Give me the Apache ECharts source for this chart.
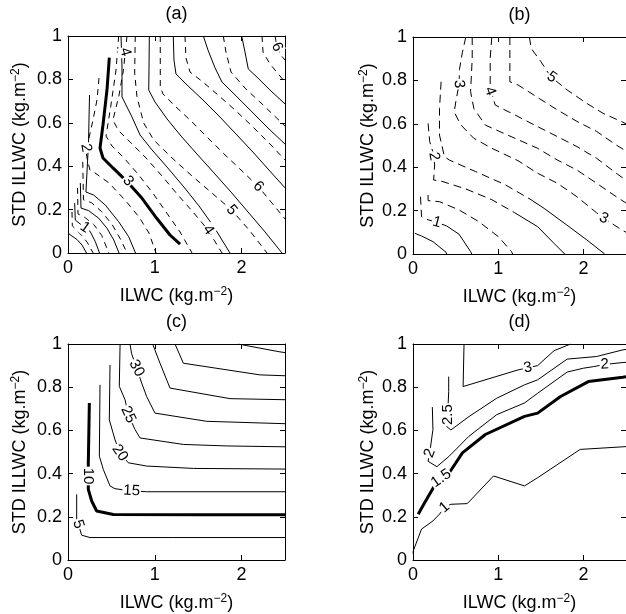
<!DOCTYPE html>
<html><head><meta charset="utf-8">
<script src="https://cdn.jsdelivr.net/npm/echarts@6/dist/echarts.min.js"></script>
<style>html,body{margin:0;padding:0;background:#fff}#c{width:626px;height:614px}</style>
</head><body><div id="c"></div>
<script>
// ---------- axes / text ----------
const xTickValues = [0, 1, 2];
const xRange = [0, 2.5];
const yRange = [0, 1];
const yStep = 0.2;
const panelTitles = ['(a)', '(b)', '(c)', '(d)'];
const xAxisTitle = 'ILWC (kg.m{s|−2})';
const yAxisTitle = 'STD ILLWC (kg.m{s|−2})';

// ---------- panel (a) contours ----------
const a_s1 = [[0,0.092],[0.035,0.081],[0.104,0.062],[0.161,0.037],[0.213,0]];
const a_s2 = [[0.077,0.23],[0.084,0.152],[0.127,0.138],[0.184,0.120],[0.253,0.101],[0.315,0.052],[0.363,0]];
const a_s3 = [[0.142,0.323],[0.150,0.207],[0.238,0.195],[0.354,0.160],[0.449,0.114],[0.527,0.060],[0.588,0]];
const a_s4 = [[0.248,0.728],[0.236,0.507],[0.207,0.281],[0.296,0.267],[0.430,0.221],[0.584,0.144],[0.699,0.075],[0.778,0]];
const a_d1 = [[0.046,0.19],[0.05,0.125],[0.10,0.105],[0.16,0.08],[0.22,0.05],[0.29,0]];
const a_d2 = [[0.11,0.30],[0.115,0.18],[0.18,0.168],[0.30,0.13],[0.39,0.08],[0.47,0]];
const a_d3 = [[0.17,0.42],[0.178,0.245],[0.27,0.232],[0.39,0.19],[0.51,0.13],[0.61,0.06],[0.68,0]];
const a_dTwo = [[0.357,0.806],[0.334,0.705],[0.288,0.613],[0.242,0.530],[0.207,0.475],[0.219,0.438],[0.253,0.382],[0.311,0.369],[0.472,0.323],[0.657,0.244],[0.818,0.166],[0.933,0.092],[1.014,0]];
const a_thick = [[0.476,0.9],[0.449,0.751],[0.403,0.590],[0.369,0.484],[0.403,0.438],[0.518,0.392],[0.680,0.329],[0.853,0.252],[1.022,0.160],[1.175,0.083],[1.291,0.041]];
const a_r1 = [[0.584,1.0],[0.553,0.843],[0.495,0.682],[0.438,0.539],[0.507,0.493],[0.645,0.438],[0.806,0.364],[0.968,0.281],[1.129,0.189],[1.291,0.097],[1.429,0]];
const a_r2 = [[0.680,1.0],[0.660,0.926],[0.639,0.843],[0.588,0.728],[0.518,0.613],[0.576,0.567],[0.714,0.512],[0.899,0.438],[1.083,0.355],[1.267,0.267],[1.440,0.189],[1.613,0.106],[1.774,0]];
const a_r3 = [[0.611,1.0],[0.622,0.857],[0.622,0.719],[0.737,0.627],[0.830,0.544],[0.968,0.475],[1.141,0.396],[1.325,0.309],[1.509,0.217],[1.682,0.120],[1.866,0]];
const a_r4 = [[0.775,1.0],[0.768,0.829],[0.795,0.719],[0.872,0.599],[0.987,0.521],[1.198,0.438],[1.429,0.355],[1.659,0.276],[1.886,0.198],[2.097,0.101],[2.293,0]];
const a_r5 = [[0.937,1.0],[0.933,0.843],[0.930,0.751],[1.002,0.696],[1.141,0.618],[1.302,0.539],[1.486,0.456],[1.682,0.369],[1.878,0.281],[2.074,0.189],[2.270,0.097],[2.465,0]];
const a_r6 = [[1.063,1.0],[1.063,0.843],[1.063,0.765],[1.094,0.733],[1.244,0.673],[1.429,0.604],[1.613,0.530],[1.809,0.452],[2.005,0.378],[2.193,0.306],[2.350,0.230],[2.5,0.157]];
const a_r7 = [[1.213,1.0],[1.221,0.889],[1.244,0.825],[1.383,0.770],[1.555,0.705],[1.740,0.631],[1.936,0.548],[2.131,0.465],[2.316,0.382],[2.5,0.300]];
const a_r8 = [[1.348,1.0],[1.359,0.899],[1.406,0.834],[1.555,0.788],[1.728,0.728],[1.924,0.659],[2.120,0.585],[2.316,0.507],[2.5,0.429]];
const a_r9 = [[1.559,1.0],[1.613,0.935],[1.694,0.853],[1.774,0.788],[1.936,0.724],[2.120,0.650],[2.304,0.576],[2.5,0.502]];
const a_r10 = [[1.789,1.0],[1.820,0.926],[1.878,0.834],[2.039,0.760],[2.235,0.687],[2.5,0.585]];
const a_r11 = [[2.001,1.0],[2.039,0.926],[2.077,0.848],[2.189,0.806],[2.327,0.751],[2.5,0.687]];
const a_r12 = [[2.235,1.0],[2.247,0.926],[2.327,0.871],[2.5,0.788]];
const a_r13 = [[2.385,1.0],[2.408,0.949],[2.442,0.917],[2.5,0.889]];
const a_labels = [['1',0.196,0.117],['2',0.207,0.484],['3',0.691,0.332],['4',0.660,0.926],['4',1.616,0.106],['5',1.886,0.198],['6',2.193,0.306],['6',2.408,0.949]];
const a_labelRot = [-35,-80,-50,-75,-55,-50,-45,-65];

// ---------- panel (b) contours ----------
const b_s05 = [[0.023,0.095],[0.100,0.083],[0.234,0.057],[0.388,0.008],[0.395,0]];
const b_l1_up = [[0.088,0.264],[0.100,0.172],[0.150,0.161],[0.280,0.146]];
const b_l1_low = [[0.280,0.146],[0.396,0.129],[0.541,0.091],[0.676,0.011],[0.69,0]];
const b_l15 = [[0.177,0.272],[0.177,0.246],[0.311,0.241],[0.541,0.203],[0.772,0.149],[1.002,0.080],[1.156,0.011],[1.17,0]];
const b_l2_up = [[0.177,0.602],[0.196,0.518],[0.238,0.464],[0.254,0.410],[0.242,0.341],[0.330,0.336],[0.618,0.30],[0.926,0.25],[1.194,0.19]];
const b_l2_low = [[1.194,0.19],[1.463,0.126],[1.655,0.049],[1.78,0]];
const b_l25_up = [[0.330,0.794],[0.311,0.671],[0.311,0.548],[0.369,0.449],[0.426,0.433],[0.733,0.38],[1.079,0.32],[1.386,0.25]];
const b_l25_low = [[1.386,0.25],[1.540,0.210],[1.8,0.135],[2.040,0.065],[2.25,0]];
const b_l3 = [[0.62,1.0],[0.58,0.93],[0.545,0.85],[0.541,0.783],[0.503,0.703],[0.484,0.654],[0.561,0.595],[0.714,0.533],[0.926,0.487],[1.233,0.43],[1.463,0.372],[1.694,0.326],[1.924,0.264],[2.155,0.19],[2.239,0.165],[2.454,0.11],[2.5,0.10]];
const b_l35 = [[0.695,1.0],[0.695,0.902],[0.676,0.748],[0.714,0.671],[0.849,0.594],[1.1,0.55],[1.463,0.487],[1.694,0.433],[1.924,0.387],[2.155,0.326],[2.386,0.264],[2.5,0.235]];
const b_l4 = [[0.925,1.0],[0.906,0.902],[0.906,0.765],[0.964,0.687],[1.041,0.671],[1.2,0.64],[1.463,0.587],[1.694,0.541],[1.924,0.495],[2.155,0.441],[2.386,0.372],[2.5,0.34]];
const b_l45 = [[1.137,1.0],[1.137,0.794],[1.233,0.779],[1.540,0.702],[1.694,0.664],[1.924,0.611],[2.155,0.565],[2.386,0.502],[2.5,0.475]];
const b_l5 = [[1.367,1.0],[1.386,0.948],[1.502,0.886],[1.617,0.817],[1.809,0.756],[2.040,0.694],[2.232,0.648],[2.454,0.609],[2.5,0.6]];
const b_labels = [['1',0.28,0.146],['2',0.246,0.450],['3',0.541,0.783],['4',0.906,0.75],['5',1.63,0.815],['3',2.239,0.165]];
const b_labelRot = [-15,-80,-85,-70,-35,-25];

// ---------- panel (c) contours ----------
const c_5 = [[0.100,0.304],[0.100,0.189],[0.119,0.166],[0.157,0.115],[0.253,0.104],[1.2,0.104],[2.5,0.104]];
const c_10 = [[0.246,0.727],[0.234,0.45],[0.234,0.327],[0.273,0.273],[0.330,0.227],[0.522,0.211],[1.5,0.209],[2.5,0.209]];
const c_15 = [[0.369,0.811],[0.361,0.481],[0.407,0.419],[0.484,0.343],[0.541,0.33],[0.733,0.320],[0.906,0.316],[2.5,0.316]];
const c_20 = [[0.484,0.903],[0.476,0.649],[0.542,0.556],[0.599,0.496],[0.695,0.450],[0.906,0.435],[1.444,0.424],[2.5,0.421]];
const c_25 = [[0.6,1.0],[0.591,0.804],[0.657,0.742],[0.695,0.673],[0.772,0.604],[0.830,0.565],[1.329,0.535],[1.829,0.528],[2.5,0.524]];
const c_30 = [[0.714,1.0],[0.733,0.955],[0.791,0.888],[0.849,0.819],[0.906,0.757],[1.002,0.680],[1.598,0.642],[2.5,0.631]];
const c_35 = [[0.975,1.0],[1.06,0.911],[1.175,0.796],[1.866,0.747],[2.5,0.742]];
const c_40 = [[1.233,1.0],[1.329,0.911],[2.212,0.857],[2.5,0.853]];
const c_45 = [[1.96,1.0],[2.42,0.965],[2.5,0.96]];
const c_labels = [['5',0.119,0.166],['10',0.232,0.389],['15',0.733,0.320],['20',0.599,0.496],['25',0.695,0.673],['30',0.791,0.888]];
const c_labelRot = [-72,-90,-3,-55,-65,-62];

// ---------- panel (d) contours ----------
const d_1 = [[0,0.03],[0.004,0.043],[0.1,0.143],[0.234,0.181],[0.311,0.212],[0.369,0.243],[0.445,0.258],[0.637,0.261],[0.945,0.389],[1.309,0.343],[1.463,0.381],[1.962,0.512],[2.462,0.524],[2.5,0.525]];
const d_15 = [[0.061,0.212],[0.138,0.266],[0.273,0.358],[0.426,0.404],[0.580,0.496],[0.849,0.581],[1.309,0.665],[1.463,0.680],[1.732,0.757],[2.058,0.826],[2.462,0.846],[2.5,0.848]];
const d_2 = [[0.227,0.708],[0.234,0.604],[0.196,0.495],[0.177,0.457],[0.280,0.432],[0.426,0.481],[0.657,0.573],[0.983,0.673],[1.309,0.727],[1.463,0.772],[1.809,0.87],[2.0,0.888],[2.116,0.895],[2.25,0.905],[2.454,0.914],[2.5,0.915]];
const d_25 = [[0.419,0.849],[0.419,0.78],[0.407,0.673],[0.396,0.618],[0.445,0.602],[0.657,0.664],[0.983,0.749],[1.309,0.811],[1.463,0.834],[1.809,0.930],[2.154,0.942],[2.454,0.972],[2.5,0.975]];
const d_3 = [[0.599,1.0],[0.588,0.803],[1.233,0.880],[1.348,0.89],[1.463,0.90],[1.655,0.969],[1.85,1.0]];
const d_labels = [['1',0.369,0.243],['1.5',0.33,0.378],['2',0.196,0.495],['2.5',0.407,0.673],['3',1.348,0.89],['2',2.25,0.905]];
const d_labelRot = [40,35,70,90,10,3];

// ---------- grouping ----------
const panels = [
  { solid:[a_s1,a_s2,a_s3,a_s4,a_r3,a_r5,a_r7,a_r9,a_r11], dashed:[a_d1,a_d2,a_d3,a_dTwo,a_r1,a_r2,a_r4,a_r6,a_r8,a_r10,a_r12,a_r13], thick:[a_thick], labels:a_labels, rot:a_labelRot },
  { solid:[b_s05,b_l1_low,b_l2_low,b_l25_low], dashed:[b_l1_up,b_l15,b_l2_up,b_l25_up,b_l3,b_l35,b_l4,b_l45,b_l5], thick:[], labels:b_labels, rot:b_labelRot },
  { solid:[c_5,c_15,c_20,c_25,c_30,c_35,c_40,c_45], dashed:[], thick:[c_10], labels:c_labels, rot:c_labelRot },
  { solid:[d_1,d_2,d_25,d_3], dashed:[], thick:[d_15], labels:d_labels, rot:d_labelRot }
];

// ---------- layout ----------
const FONT = 'Liberation Sans, Arial, sans-serif';
const grids = [
  {left:68, top:36, width:217, height:217},
  {left:413, top:37, width:217, height:217},
  {left:68, top:344, width:217, height:217},
  {left:413, top:344, width:217, height:217}
];
const yNameGap = [38, 31, 38, 31];
const dashPattern = [[6,5],[8,5],[6,5],[6,5]];

const rich = { s: { fontSize: 12, fontFamily: FONT, color:'#000', verticalAlign:'top', lineHeight: 12 } };
const black = { color:'#000', width:1 };

const xAxes = [], yAxes = [], series = [];
grids.forEach((g, i) => {
  xAxes.push({
    gridIndex:i, type:'value', min:xRange[0], max:xRange[1], interval:1, position:'bottom',
    axisLine:{show:true, onZero:false, lineStyle:black},
    axisTick:{show:true, inside:true, length:5, lineStyle:black},
    axisLabel:{show:true, margin:6, fontSize:18, fontFamily:FONT, color:'#000', showMaxLabel:false,
      formatter: v => (xTickValues.indexOf(v) >= 0 ? String(v) : '')},
    splitLine:{show:false},
    name:xAxisTitle, nameLocation:'middle', nameGap:33,
    nameTextStyle:{fontSize:18, fontFamily:FONT, color:'#000', lineHeight:20, rich}
  });
  yAxes.push({
    gridIndex:i, type:'value', min:yRange[0], max:yRange[1], interval:yStep, position:'left',
    axisLine:{show:true, onZero:false, lineStyle:black},
    axisTick:{show:true, inside:true, length:5, lineStyle:black},
    axisLabel:{show:true, margin:6, fontSize:18, fontFamily:FONT, color:'#000'},
    splitLine:{show:false},
    name:yAxisTitle, nameLocation:'middle', nameGap:yNameGap[i], nameRotate:90,
    nameTextStyle:{fontSize:18, fontFamily:FONT, color:'#000', lineHeight:20, rich}
  });
});
grids.forEach((g, i) => {
  xAxes.push({
    gridIndex:i, type:'value', min:xRange[0], max:xRange[1], interval:1, position:'top',
    axisLine:{show:true, onZero:false, lineStyle:black},
    axisTick:{show:true, inside:true, length:5, lineStyle:black},
    axisLabel:{show:false}, splitLine:{show:false},
    name:panelTitles[i], nameLocation:'middle', nameGap:13,
    nameTextStyle:{fontSize:18, fontFamily:FONT, color:'#000'}
  });
  yAxes.push({
    gridIndex:i, type:'value', min:yRange[0], max:yRange[1], interval:yStep, position:'right',
    axisLine:{show:true, onZero:false, lineStyle:black},
    axisTick:{show:true, inside:true, length:5, lineStyle:black},
    axisLabel:{show:false}, splitLine:{show:false}
  });
});

function addLine(data, i, width, type) {
  series.push({
    type:'line', xAxisIndex:i, yAxisIndex:i, data:data, symbol:'none', silent:true,
    lineStyle:{color:'#000', width:width, type:type}, z:2, animation:false, clip:true
  });
}
panels.forEach((p, i) => {
  p.solid.forEach(d => addLine(d, i, 1, 'solid'));
  p.dashed.forEach(d => addLine(d, i, 1, dashPattern[i]));
  p.thick.forEach(d => addLine(d, i, 3, 'solid'));
  series.push({
    type:'scatter', xAxisIndex:i, yAxisIndex:i, symbolSize:0, silent:true, z:5, animation:false,
    data: p.labels.map((l, k) => ({
      value:[l[1], l[2]], name:l[0],
      label:{rotate:p.rot[k]}
    })),
    label:{show:true, position:'inside', formatter:q => q.name, fontSize:15, fontFamily:FONT,
      color:'#000', textBorderWidth:0, textBorderColor:'transparent', opacity:1,
      backgroundColor:'#fff', padding:[0,1]}
  });
});

const chart = echarts.init(document.getElementById('c'), null, {renderer:'canvas'});
chart.setOption({
  animation:false, backgroundColor:'#fff',
  grid:grids, xAxis:xAxes, yAxis:yAxes, series:series
});
</script></body></html>
